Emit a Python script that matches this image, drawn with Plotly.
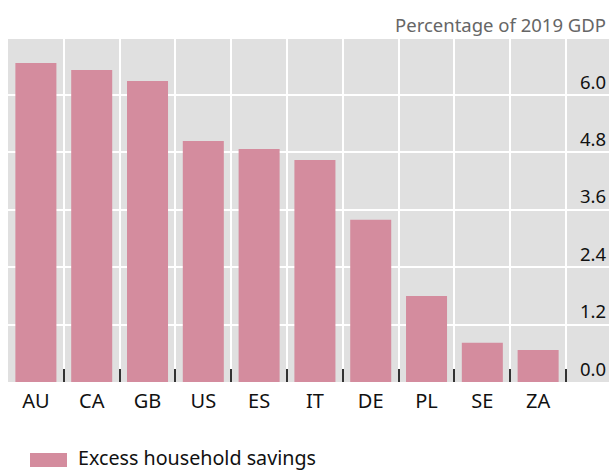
import plotly.graph_objects as go

countries = ["AU", "CA", "GB", "US", "ES", "IT", "DE", "PL", "SE", "ZA"]
savings = [6.67, 6.52, 6.29, 5.04, 4.87, 4.64, 3.39, 1.80, 0.82, 0.67]
y_ticks = [0.0, 1.2, 2.4, 3.6, 4.8, 6.0]
series_name = "Excess household savings"
unit_label = "Percentage of 2019 GDP"

BAR = "#D48C9E"
FONT = "Noto Sans"

fig = go.Figure()
fig.add_trace(go.Bar(x=countries, y=savings, name=series_name,
                     marker=dict(color=BAR, line=dict(width=0)),
                     showlegend=False))

fig.update_layout(
    width=609, height=471,
    margin=dict(l=8, r=0, t=39, b=89),
    paper_bgcolor="white",
    plot_bgcolor="#E0E0E0",
    bargap=0.265,
    font=dict(family=FONT, size=18, color="#111"),
    xaxis=dict(
        type="category",
        range=[-0.5, 10.27],
        tickson="boundaries",
        ticks="inside", ticklen=13, tickwidth=1.5, tickcolor="#333",
        showgrid=True, gridcolor="white", gridwidth=1.5,
        showline=False, zeroline=False,
        tickfont=dict(size=20, color="#111"),
        ticklabelstandoff=5,
    ),
    yaxis=dict(
        side="right",
        range=[0, 7.17],
        tickvals=y_ticks,
        tickformat=".1f",
        ticklabelposition="inside top",
        ticks="",
        showgrid=True, gridcolor="white", gridwidth=1.5,
        zeroline=False, showline=False,
        tickfont=dict(size=18.5, color="#111"),
    ),
)

fig.add_annotation(text=unit_label, xref="paper", yref="paper", x=1, y=1,
                   xanchor="right", yanchor="bottom", showarrow=False,
                   font=dict(size=18.5, color="#666"), xshift=-1)

# legend swatch + label
fig.add_shape(type="rect", xref="paper", yref="paper",
              x0=(30 - 8) / 601, x1=(67 - 8) / 601,
              y0=-(453 - 382) / 343, y1=-(467 - 382) / 343,
              fillcolor=BAR, line=dict(width=0))
fig.add_annotation(text=series_name, xref="paper", yref="paper",
                   x=(78 - 8) / 601, y=-(457.5 - 382) / 343,
                   xanchor="left", yanchor="middle", showarrow=False,
                   font=dict(size=19.7, color="#111"), xshift=-2)

fig.write_html("out.html",
               config={"displayModeBar": False},
               post_script="document.body.style.margin='0';document.body.style.overflow='hidden';")
